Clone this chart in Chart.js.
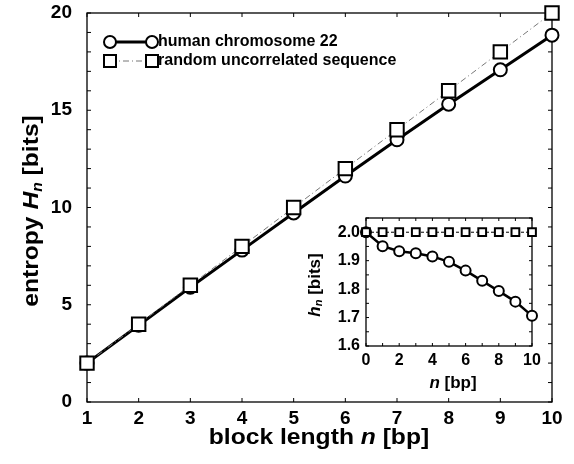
<!DOCTYPE html>
<html><head><meta charset="utf-8">
<script src="https://cdn.jsdelivr.net/npm/chart.js@4/dist/chart.umd.min.js"></script>
<style>html,body{margin:0;padding:0;background:#fff;}#wrap{position:relative;width:574px;height:464px;}canvas{position:absolute;}</style>
</head><body><div id="wrap"><canvas id="main" width="574" height="464" style="left:0;top:0"></canvas><canvas id="inset" width="260" height="195" style="left:290px;top:205px"></canvas></div>
<script>
// ---- data ----
const blockLength = [1,2,3,4,5,6,7,8,9,10];
const humanEntropy = [2.0,3.95,5.9,7.81,9.72,11.62,13.48,15.31,17.08,18.86];
const randomEntropy = [2,4,6,8,10,12,14,16,18,20];
const mainXTicks = [1,2,3,4,5,6,7,8,9,10];
const mainYTicks = [0,5,10,15,20];
const insetN = [0,1,2,3,4,5,6,7,8,9,10];
const humanRate = [2.0,1.951,1.933,1.926,1.915,1.896,1.865,1.829,1.793,1.756,1.706];
const randomRate = [2.0,2.0,2.0,2.0,2.0,2.0,2.0,2.0,2.0,2.0,2.0];
const insetXTicks = [0,2,4,6,8,10];
const insetYTicks = [1.6,1.7,1.8,1.9,2.0];
const legendLabels = ['human chromosome 22','random uncorrelated sequence'];

const FONT = '"Liberation Sans", Arial, Helvetica, sans-serif';
Chart.defaults.font.family = FONT;
Chart.defaults.color = '#000';

function pts(xs, ys){ return xs.map((x,i)=>({x, y: ys[i]})); }

function drawPieces(ctx, pieces, cx, cy, rot, stretch){
  ctx.save();
  ctx.translate(cx, cy);
  if (rot) ctx.rotate(rot);
  if (stretch) ctx.scale(stretch, 1);
  let total = 0;
  pieces.forEach(p=>{ ctx.font = p.font; p.w = ctx.measureText(p.t).width; total += p.w; });
  let x = -total/2;
  ctx.textBaseline = 'middle';
  ctx.textAlign = 'left';
  ctx.fillStyle = '#000';
  pieces.forEach(p=>{ ctx.font = p.font; ctx.fillText(p.t, x, p.dy || 0); x += p.w; });
  ctx.restore();
}

function framePlugin(cfg){
  return {
    id: 'frame_' + cfg.name,
    beforeDatasetsDraw(chart){
      const {ctx, chartArea: a, scales: {x, y}} = chart;
      ctx.save();
      ctx.strokeStyle = '#000';
      ctx.lineWidth = 1.3;
      ctx.strokeRect(a.left, a.top, a.right - a.left, a.bottom - a.top);
      ctx.lineWidth = 1;
      ctx.beginPath();
      for (let v = x.min; v <= x.max + 1e-9; v += cfg.xMinor){
        const p = x.getPixelForValue(v);
        ctx.moveTo(p, a.bottom); ctx.lineTo(p, a.bottom - cfg.len);
        ctx.moveTo(p, a.top); ctx.lineTo(p, a.top + cfg.len);
      }
      for (let v = cfg.yMinStart; v <= y.max + 1e-9; v += cfg.yMinor){
        const p = y.getPixelForValue(v);
        ctx.moveTo(a.left, p); ctx.lineTo(a.left + cfg.len, p);
        ctx.moveTo(a.right, p); ctx.lineTo(a.right - cfg.len, p);
      }
      ctx.stroke();
      ctx.restore();
    },
    afterDraw(chart){ cfg.after && cfg.after(chart); }
  };
}

function fitX(h){ return s => { s.height = h; s.paddingLeft = 0; s.paddingRight = 0; }; }
function fitY(w){ return s => { s.width = w; s.paddingTop = 0; s.paddingBottom = 0; }; }

// ---- main chart ----
new Chart(document.getElementById('main'), {
  type: 'line',
  data: { datasets: [
    { label: legendLabels[0], data: pts(blockLength, humanEntropy), order: 2,
      borderColor: '#000', borderWidth: 3, pointStyle: 'circle', pointRadius: 6.5,
      pointBorderWidth: 2, pointBackgroundColor: '#fff', pointBorderColor: '#000', clip: false, tension: 0 },
    { label: legendLabels[1], data: pts(blockLength, randomEntropy), order: 1,
      borderColor: '#777', borderWidth: 1, borderDash: [6,3,1,3], pointStyle: 'rect', pointRadius: 9.5,
      pointBorderWidth: 2, pointBackgroundColor: '#fff', pointBorderColor: '#000', clip: false, tension: 0 }
  ]},
  options: {
    responsive: false, animation: false, devicePixelRatio: 1,
    layout: { padding: { left: 0, right: 22, top: 13, bottom: 0 } },
    plugins: { legend: { display: false }, tooltip: { enabled: false } },
    scales: {
      x: { type: 'linear', min: 1, max: 10,
        afterBuildTicks: s => { s.ticks = mainXTicks.map(v => ({value: v})); },
        afterFit: fitX(62),
        grid: { display: false, drawTicks: false }, border: { display: false },
        ticks: { padding: 5, font: { size: 19, weight: 'bold' } } },
      y: { type: 'linear', min: 0, max: 20,
        afterBuildTicks: s => { s.ticks = mainYTicks.map(v => ({value: v})); },
        afterFit: fitY(87),
        grid: { display: false, drawTicks: false }, border: { display: false },
        ticks: { padding: 15, font: { size: 19, weight: 'bold' } } }
    }
  },
  plugins: [framePlugin({ name: 'main', xMinor: 1, yMinor: 1, yMinStart: 0, len: 4,
    after(chart){
      const ctx = chart.ctx;
      const B = 'bold 22px ' + FONT, BI = 'italic bold 22px ' + FONT, SI = 'italic bold 14px ' + FONT;
      drawPieces(ctx, [{t:'block length ', font:B},{t:'n', font:BI},{t:' [bp]', font:B}], 319, 438, 0, 1.12);
      drawPieces(ctx, [{t:'entropy ', font:B},{t:'H', font:BI},{t:'n', font:SI, dy:6},{t:' [bits]', font:B}], 32, 211, -Math.PI/2, 1.12);
      // legend
      ctx.save();
      const rows = [42, 61];
      ctx.strokeStyle = '#000'; ctx.fillStyle = '#fff';
      ctx.lineWidth = 3;
      ctx.beginPath(); ctx.moveTo(110, rows[0]); ctx.lineTo(152, rows[0]); ctx.stroke();
      ctx.lineWidth = 1; ctx.strokeStyle = '#777'; ctx.setLineDash([6,3,1,3]);
      ctx.beginPath(); ctx.moveTo(110, rows[1]); ctx.lineTo(152, rows[1]); ctx.stroke();
      ctx.setLineDash([]); ctx.strokeStyle = '#000'; ctx.lineWidth = 2;
      [110, 152].forEach(cx => {
        ctx.beginPath(); ctx.arc(cx, rows[0], 6, 0, Math.PI*2); ctx.fill(); ctx.stroke();
        ctx.beginPath(); ctx.rect(cx - 6, rows[1] - 6, 12, 12); ctx.fill(); ctx.stroke();
      });
      ctx.fillStyle = '#000'; ctx.font = 'bold 16px ' + FONT; ctx.textBaseline = 'middle'; ctx.textAlign = 'left';
      ctx.fillText(legendLabels[0], 158, rows[0]);
      ctx.fillText(legendLabels[1], 158, rows[1]);
      ctx.restore();
    } })]
});

// ---- inset chart ----
new Chart(document.getElementById('inset'), {
  type: 'line',
  data: { datasets: [
    { label: legendLabels[0], data: pts(insetN, humanRate), order: 2,
      borderColor: '#000', borderWidth: 2.5, pointStyle: 'circle', pointRadius: 5,
      pointBorderWidth: 2, pointBackgroundColor: '#fff', pointBorderColor: '#000', clip: false, tension: 0 },
    { label: legendLabels[1], data: pts(insetN, randomRate), order: 1,
      borderColor: '#000', borderWidth: 1, borderDash: [3,2], pointStyle: 'rect', pointRadius: 5.5,
      pointBorderWidth: 2, pointBackgroundColor: '#fff', pointBorderColor: '#000', clip: false, tension: 0 }
  ]},
  options: {
    responsive: false, animation: false, devicePixelRatio: 1,
    layout: { padding: { left: 0, right: 18, top: 13, bottom: 0 } },
    plugins: { legend: { display: false }, tooltip: { enabled: false } },
    scales: {
      x: { type: 'linear', min: 0, max: 10,
        afterBuildTicks: s => { s.ticks = insetXTicks.map(v => ({value: v})); },
        afterFit: fitX(54),
        grid: { display: false, drawTicks: false }, border: { display: false },
        ticks: { padding: 5, font: { size: 16, weight: 'bold' } } },
      y: { type: 'linear', min: 1.6, max: 2.05,
        afterBuildTicks: s => { s.ticks = insetYTicks.map(v => ({value: v})); },
        afterFit: fitY(76),
        grid: { display: false, drawTicks: false }, border: { display: false },
        ticks: { padding: 6, font: { size: 16, weight: 'bold' }, callback: v => Number(v).toFixed(1) } }
    }
  },
  plugins: [framePlugin({ name: 'inset', xMinor: 1, yMinor: 0.05, yMinStart: 1.6, len: 3,
    after(chart){
      const ctx = chart.ctx;
      const B = 'bold 17px ' + FONT, BI = 'italic bold 17px ' + FONT, SI = 'italic bold 11px ' + FONT;
      drawPieces(ctx, [{t:'n', font:BI},{t:' [bp]', font:B}], 163, 178, 0);
      drawPieces(ctx, [{t:'h', font:BI},{t:'n', font:SI, dy:4},{t:' [bits]', font:B}], 25, 80, -Math.PI/2);
    } })]
});
</script></body></html>
